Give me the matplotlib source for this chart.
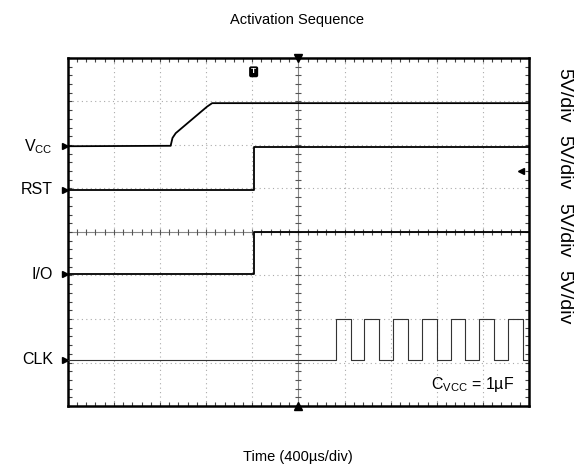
import numpy as np
import matplotlib.pyplot as plt

plt.rcParams['font.family'] = ['Liberation Sans', 'DejaVu Sans']
plt.rcParams['mathtext.default'] = 'regular'

# scope screen: 10 x 8 divisions
n_xdiv, n_ydiv = 10, 8

# Vcc trace (div units)
vcc_t = [0.0, 2.23, 2.27, 2.34, 2.73, 3.02, 3.13, 10.0]
vcc_v = [5.97, 5.98, 6.16, 6.27, 6.62, 6.88, 6.96, 6.96]

# RST / I/O step at the same time
step_t = 4.03
rst_lo, rst_hi = 4.97, 5.96
io_lo, io_hi = 3.03, 4.0

# CLK edges
clk_lo, clk_hi = 1.06, 2.0
clk_rise = [5.82, 6.43, 7.06, 7.69, 8.31, 8.92, 9.55]
clk_fall = [6.14, 6.75, 7.37, 8.00, 8.61, 9.24, 9.86]

labels = ['$V_{CC}$', 'RST', 'I/O', 'CLK']
label_levels = [vcc_v[0], rst_lo, io_lo, clk_lo]
scale_labels = ['5V/div', '5V/div', '5V/div', '5V/div']


def step_trace(t_up, t_down, lo, hi, t0=0.0, t1=10.0):
    xs, ys = [t0], [lo]
    for r, f in zip(t_up, t_down):
        xs += [r, r, f, f]
        ys += [lo, hi, hi, lo]
    xs.append(t1)
    ys.append(lo)
    return xs, ys


fig = plt.figure(figsize=(5.74, 4.73), dpi=100)
ax = fig.add_axes([0.1181, 0.1416, 0.8035, 0.736])
ax.set_xlim(0, n_xdiv)
ax.set_ylim(0, n_ydiv)

# graticule
for i in range(1, n_xdiv):
    if i == n_xdiv // 2:
        ax.axvline(i, color='#888888', lw=0.8, zorder=1)
    else:
        ax.axvline(i, color='#aaaaaa', lw=0.8, ls=(0, (1, 3)), zorder=1)
for j in range(1, n_ydiv):
    if j == n_ydiv // 2:
        ax.axhline(j, color='#888888', lw=0.8, zorder=1)
    else:
        ax.axhline(j, color='#aaaaaa', lw=0.8, ls=(0, (1, 3)), zorder=1)

# small ticks on the centre lines
mx = np.arange(0, n_xdiv + 0.01, 0.2)
my = np.arange(0, n_ydiv + 0.01, 0.2)
ax.plot(mx, np.full_like(mx, n_ydiv / 2), ls='none', marker='|', ms=4,
        mew=0.8, color='#555555', zorder=1)
ax.plot(np.full_like(my, n_xdiv / 2), my, ls='none', marker='_', ms=4,
        mew=0.8, color='#555555', zorder=1)

ax.set_xticks([])
ax.set_yticks([])
ax.set_xticks(mx, minor=True)
ax.set_yticks(my, minor=True)
ax.tick_params(which='minor', direction='in', length=3, width=0.8,
               top=True, right=True, labelbottom=False, labelleft=False,
               color='#444444')
for s in ax.spines.values():
    s.set_linewidth(1.8)

# traces
ax.plot(vcc_t, vcc_v, color='black', lw=1.3, zorder=3)
ax.plot([0, step_t, step_t, 10], [rst_lo, rst_lo, rst_hi, rst_hi],
        color='black', lw=1.3, zorder=3)
ax.plot([0, step_t, step_t, 10], [io_lo, io_lo, io_hi, io_hi],
        color='black', lw=1.3, zorder=3)
cx, cy = step_trace(clk_rise, clk_fall, clk_lo, clk_hi)
ax.plot(cx, cy, color='#333333', lw=0.8, zorder=3)

# channel markers and labels
for lab, lev in zip(labels, label_levels):
    ax.plot([-0.05], [lev], marker='>', ms=4, color='black', clip_on=False)
    ax.text(-0.32, lev, lab, ha='right', va='center', fontsize=11.5)

# trigger / position markers
ax.plot([5], [n_ydiv], marker='v', ms=6, color='black', clip_on=False, zorder=4)
ax.plot([5], [0], marker='^', ms=6, color='black', clip_on=False, zorder=4)
ax.text(step_t, 7.68, 'T', ha='center', va='center', fontsize=6,
        fontweight='bold', color='white',
        bbox=dict(boxstyle='round,pad=0.15', fc='black', ec='black'))
ax.plot([9.82], [5.4], marker='<', ms=4, color='black', zorder=4)

ax.text(9.68, 0.5, '$C_{VCC}$ = 1µF', ha='right', va='center', fontsize=11.5)

fig.text(297 / 574, 1 - 20 / 473, 'Activation Sequence', ha='center',
         va='center', fontsize=10.5)
fig.text(298 / 574, 1 - 457 / 473, 'Time (400µs/div)', ha='center',
         va='center', fontsize=10.5)
for k, s in enumerate(scale_labels):
    fig.text(564 / 574, 1 - (95 + 67.5 * k) / 473, s, rotation=270,
             ha='center', va='center', fontsize=14)

fig.savefig('out.png', dpi=100)
